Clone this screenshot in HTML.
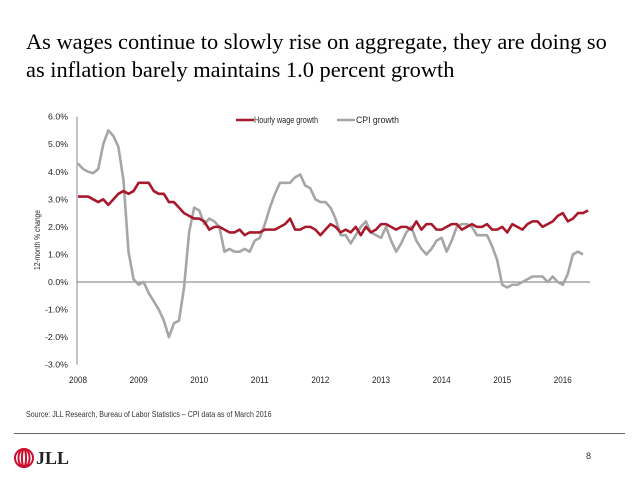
<!DOCTYPE html>
<html><head><meta charset="utf-8"><style>
body{margin:0;width:638px;height:479px;background:#fff;overflow:hidden;position:relative;font-family:"Liberation Sans",sans-serif}
.t{position:absolute;left:26px;top:28px;font-family:"Liberation Serif",serif;font-size:22.4px;line-height:28px;color:#000;white-space:nowrap}
</style></head><body>
<div class="t">As wages continue to slowly rise on aggregate, they are doing so<br>as inflation barely maintains 1.0 percent growth</div>
<svg id="c" width="638" height="479" style="position:absolute;left:0;top:0"></svg>
<script>
const years=["2008","2009","2010","2011","2012","2013","2014","2015","2016"];
const yTicks=[6,5,4,3,2,1,0,-1,-2,-3];
const wage=[3.1,3.1,3.1,3.0,2.9,3.0,2.8,3.0,3.2,3.3,3.2,3.3,
3.6,3.6,3.6,3.3,3.2,3.2,2.9,2.9,2.7,2.5,2.4,2.3,
2.3,2.2,1.9,2.0,2.0,1.9,1.8,1.8,1.9,1.7,1.8,1.8,
1.8,1.9,1.9,1.9,2.0,2.1,2.3,1.9,1.9,2.0,2.0,1.9,
1.7,1.9,2.1,2.0,1.8,1.9,1.8,2.0,1.7,2.0,1.8,1.9,
2.1,2.1,2.0,1.9,2.0,2.0,1.9,2.2,1.9,2.1,2.1,1.9,
1.9,2.0,2.1,2.1,1.9,2.0,2.1,2.0,2.0,2.1,1.9,1.9,
2.0,1.8,2.1,2.0,1.9,2.1,2.2,2.2,2.0,2.1,2.2,2.4,
2.5,2.2,2.3,2.5,2.5,2.6];
const cpi=[4.3,4.1,4.0,3.95,4.1,5.0,5.5,5.3,4.9,3.7,1.1,0.1,
-0.1,0.0,-0.4,-0.7,-1.0,-1.4,-2.0,-1.5,-1.4,-0.2,1.8,2.7,
2.6,2.1,2.3,2.2,2.0,1.1,1.2,1.1,1.1,1.2,1.1,1.5,
1.6,2.1,2.7,3.2,3.6,3.6,3.6,3.8,3.9,3.5,3.4,3.0,
2.9,2.9,2.7,2.3,1.7,1.7,1.4,1.7,2.0,2.2,1.8,1.7,
1.6,2.0,1.5,1.1,1.4,1.8,2.0,1.5,1.2,1.0,1.2,1.5,
1.6,1.1,1.5,2.0,2.1,2.1,2.0,1.7,1.7,1.7,1.3,0.8,
-0.1,-0.2,-0.1,-0.1,0.0,0.1,0.2,0.2,0.2,0.0,0.2,0.0,
-0.1,0.3,1.0,1.1,1.0];
const NS='http://www.w3.org/2000/svg',svg=document.getElementById('c');
const x0=78,yr=60.6,yZero=282,pp=27.56;
const X=m=>x0+m*yr/12, Y=v=>yZero-v*pp;
function mk(t,a,txt){const e=document.createElementNS(NS,t);for(const k in a)e.setAttribute(k,a[k]);if(txt!=null)e.textContent=txt;svg.appendChild(e);return e;}
let e=mk('line',{x1:77,y1:Y(6),x2:77,y2:Y(-3),stroke:'#888','stroke-width':1});


e=mk('line',{x1:77,y1:Y(0),x2:590,y2:Y(0),stroke:'#777','stroke-width':1});


yTicks.forEach(v=>{const t=mk('text',{x:68,y:Y(v)+3,'text-anchor':'end','font-size':8.5,fill:'#222',textLength:20,lengthAdjust:'spacingAndGlyphs'},v.toFixed(1)+'%');
if(v<0)t.setAttribute('textLength',23);

});
years.forEach((s,i)=>{const t=mk('text',{x:X(i*12),y:383,'text-anchor':'middle','font-size':9.5,fill:'#222',textLength:18,lengthAdjust:'spacingAndGlyphs'},s);

});
e=mk('text',{x:0,y:0,transform:'translate(40,240) rotate(-90)','text-anchor':'middle','font-size':8.5,fill:'#222',textLength:60,lengthAdjust:'spacingAndGlyphs'},'12-month % change');


function line(d,c,n){const p=mk('polyline',{points:d.map((v,i)=>X(i)+','+Y(v)).join(' '),fill:'none',stroke:c,'stroke-width':2.6,'stroke-linejoin':'round'});

}
line(cpi,'#a6a6a6','cpi-line');
line(wage,'#a8192b','wage-line');
e=mk('line',{x1:236,y1:120,x2:254,y2:120,stroke:'#a8192b','stroke-width':2.6});


e=mk('text',{x:254,y:123,'font-size':9,fill:'#222',textLength:64,lengthAdjust:'spacingAndGlyphs'},'Hourly wage growth');


e=mk('line',{x1:337,y1:120,x2:355,y2:120,stroke:'#a6a6a6','stroke-width':2.6});


e=mk('text',{x:356,y:123,'font-size':9,fill:'#222',textLength:43,lengthAdjust:'spacingAndGlyphs'},'CPI growth');


</script>
<div style="position:absolute;left:26px;top:410px;font-size:8px;color:#333;transform:scaleX(0.88);transform-origin:left">Source: JLL Research, Bureau of Labor Statistics – CPI data as of March 2016</div>
<div style="position:absolute;left:14px;top:433px;width:611px;height:1px;background:#666"></div>
<div style="position:absolute;left:13px;top:448px;height:20px;display:flex;align-items:center">
<svg width="22" height="20"><g fill="none" stroke="#c8102e" stroke-width="2"><ellipse cx="11" cy="10" rx="9" ry="9"/><ellipse cx="11" cy="10" rx="5.5" ry="9"/><ellipse cx="11" cy="10" rx="2" ry="9"/></g></svg>
<span style="font-family:'Liberation Serif',serif;font-weight:bold;font-size:18px;color:#222;margin-left:1px">JLL</span></div>
<div style="position:absolute;left:586px;top:451px;font-size:9px;color:#333">8</div>
</body></html>
